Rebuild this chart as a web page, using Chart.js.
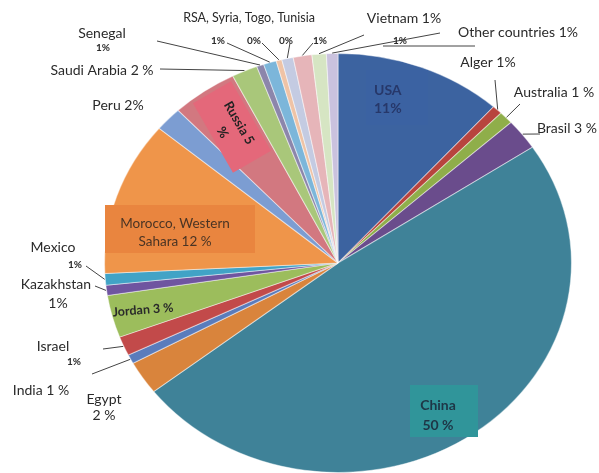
<!DOCTYPE html>
<html>
<head>
<meta charset="utf-8">
<script src="https://cdn.jsdelivr.net/npm/chart.js@4.4.1/dist/chart.umd.min.js"></script>
<style>
  html, body { margin: 0; padding: 0; background: #fff; }
  canvas { display: block; }
</style>
</head>
<body>
<canvas id="pie" width="599" height="473"></canvas>
<script>
// slices, clockwise from 12 o'clock
const countries = ['USA', 'Alger', 'Australia', 'Brasil', 'China', 'Egypt', 'India', 'Israel',
  'Jordan', 'Kazakhstan', 'Mexico', 'Morocco, Western Sahara', 'Peru', 'Russia', 'Saudi Arabia',
  'Senegal', 'RSA', 'Syria', 'Togo', 'Tunisia', 'Vietnam', 'Other countries'];
const shares = [11.7, 0.7, 1.0, 2.4, 49.2, 2.6, 0.7, 1.5,
  3.3, 0.8, 0.9, 12.0, 1.9, 4.6, 1.8,
  0.5, 0.9, 0.4, 0.8, 1.3, 1.0, 0.8];
const shareLabels = ['11%', '1%', '1 %', '3 %', '50 %', '2 %', '1 %', '1%',
  '3 %', '1%', '1%', '12 %', '2%', '5 %', '2 %',
  '1%', '1%', '0%', '0%', '1%', '1%', '1%'];
const sliceColors = ['#3c63a0', '#b8443e', '#8fae4a', '#6a4c8c', '#3f8298', '#d9843c', '#5a7cbc', '#c24a4a',
  '#9cbd5c', '#6f55a0', '#41a3c6', '#ef954a', '#7c9dd2', '#d27880', '#a9c77a',
  '#8c86ab', '#7cb6da', '#efc3a6', '#c4cbe2', '#e6b5b9', '#d6e5c3', '#cac2de'];

const cx = 338, cy = 263, rx = 234, ry = 210;

const ink = '#2a2a2a';
const mainFont = "14px Lato";
const smallFont = "bold 10px Lato";

// outside labels: [slice index, text, x, y, font, leader from (lx,ly)]
const outside = [
  [1, 'Alger 1%', 488, 62, mainFont, [495, 80]],
  [2, 'Australia 1 %', 554, 92, mainFont, [520, 104]],
  [3, 'Brasil 3 %', 567, 128, mainFont, [540, 134]],
  [5, 'Egypt', 104, 399, mainFont, null],
  [5, '2 %', 104, 415, mainFont, null],
  [6, 'India 1 %', 41, 390, mainFont, [92, 374]],
  [7, 'Israel', 53, 346, mainFont, null],
  [7, '1%', 74, 362, smallFont, [103, 349]],
  [9, 'Kazakhstan', 56, 284, mainFont, [95, 286]],
  [9, '1%', 58, 303, mainFont, null],
  [10, 'Mexico', 53, 247, mainFont, null],
  [10, '1%', 75, 265, smallFont, [86, 266]],
  [12, 'Peru 2%', 118, 105, mainFont, null],
  [14, 'Saudi Arabia 2 %', 102, 70, mainFont, [160, 69]],
  [15, 'Senegal', 102, 33, mainFont, null],
  [15, '1%', 103, 48, smallFont, [157, 41]],
  [16, '1%', 218, 41, smallFont, [227, 43]],
  [17, '0%', 254, 41, smallFont, [262, 43]],
  [18, '0%', 286, 41, smallFont, [290, 43]],
  [19, '1%', 320, 41, smallFont, [313, 43]],
  [20, 'Vietnam 1%', 404, 18, mainFont, [364, 35]],
  [21, 'Other countries 1%', 518, 32, mainFont, [440, 33]],
  [21, '1%', 400, 41, smallFont, null]
];

const boxes = {
  usa: { x: 366, y: 70, w: 62, h: 55, fill: '#3b62a2', color: '#27386a' },
  morocco: { x: 105, y: 205, w: 150, h: 48, fill: '#e9853f', color: '#4a3424' },
  china: { x: 410, y: 385, w: 68, h: 52, fill: '#30959a', color: '#1e3646' },
  russia: { x: 232, y: 127, w: 80, h: 44, fill: '#e4687a', color: '#222' }
};

function edgePoint(arc) {
  const a = (arc.startAngle + arc.endAngle) / 2;
  return [cx + rx * Math.cos(a), cy + ry * Math.sin(a)];
}

const ellipse = {
  id: 'ellipse',
  beforeDatasetsDraw(chart) {
    const ctx = chart.ctx;
    ctx.save();
    ctx.translate(cx, cy);
    ctx.scale(rx / ry, 1);
    ctx.translate(-cx, -cy);
  },
  afterDatasetsDraw(chart) {
    const ctx = chart.ctx;
    ctx.restore();
    const arcs = chart.getDatasetMeta(0).data;

    // label boxes inside slices
    ctx.save();
    ctx.textAlign = 'left';
    ctx.textBaseline = 'middle';
    let b = boxes.usa;
    ctx.fillStyle = b.fill; ctx.fillRect(b.x, b.y, b.w, b.h);
    ctx.fillStyle = b.color; ctx.font = 'bold 14px Lato';
    ctx.fillText(countries[0], b.x + 8, b.y + 20);
    ctx.fillText(shareLabels[0], b.x + 8, b.y + 38);

    b = boxes.morocco;
    ctx.fillStyle = b.fill; ctx.fillRect(b.x, b.y, b.w, b.h);
    ctx.fillStyle = b.color; ctx.font = '13.5px Lato';
    ctx.textAlign = 'center';
    ctx.fillText('Morocco, Western', b.x + 70, b.y + 19);
    ctx.fillText('Sahara ' + shareLabels[11], b.x + 70, b.y + 37);

    b = boxes.china;
    ctx.fillStyle = b.fill; ctx.fillRect(b.x, b.y, b.w, b.h);
    ctx.fillStyle = b.color; ctx.font = 'bold 14px Lato';
    ctx.fillText(countries[4], b.x + 28, b.y + 20);
    ctx.fillText(shareLabels[4], b.x + 28, b.y + 40);

    b = boxes.russia;
    ctx.save();
    ctx.translate(b.x, b.y);
    ctx.rotate(Math.PI / 3);
    ctx.fillStyle = b.fill; ctx.fillRect(-b.w / 2, -b.h / 2, b.w, b.h);
    ctx.fillStyle = b.color; ctx.font = 'bold 13px Lato';
    ctx.fillText('Russia 5', 0, -8);
    ctx.fillText('%', 0, 11);
    ctx.restore();

    ctx.save();
    ctx.translate(143, 310);
    ctx.rotate(-0.08);
    ctx.fillStyle = ink; ctx.font = 'bold 12.5px Lato';
    ctx.fillText('Jordan ' + shareLabels[8], 0, 0);
    ctx.restore();

    // outside labels and leaders
    ctx.strokeStyle = '#444';
    ctx.lineWidth = 1;
    ctx.fillStyle = ink;
    ctx.font = '12.5px Lato';
    ctx.fillText('RSA, Syria, Togo, Tunisia', 249, 18);
    for (const [i, text, x, y, font, lead] of outside) {
      ctx.font = font;
      ctx.fillText(text, x, y);
      if (lead) {
        const [ex, ey] = edgePoint(arcs[i]);
        ctx.beginPath();
        ctx.moveTo(lead[0], lead[1]);
        ctx.lineTo(ex, ey);
        ctx.stroke();
      }
    }
    ctx.beginPath();
    ctx.moveTo(383, 46);
    ctx.lineTo(475, 46);
    ctx.stroke();
    ctx.restore();
  }
};

new Chart(document.getElementById('pie'), {
  type: 'pie',
  data: {
    labels: countries,
    datasets: [{
      data: shares,
      backgroundColor: sliceColors,
      borderColor: 'rgba(255,255,255,0.45)',
      borderWidth: 1
    }]
  },
  options: {
    responsive: false,
    animation: false,
    layout: { padding: { left: cx - ry, right: 599 - cx - ry, top: cy - ry, bottom: 0 } },
    plugins: {
      legend: { display: false },
      tooltip: { enabled: false }
    }
  },
  plugins: [ellipse]
});
</script>
</body>
</html>
